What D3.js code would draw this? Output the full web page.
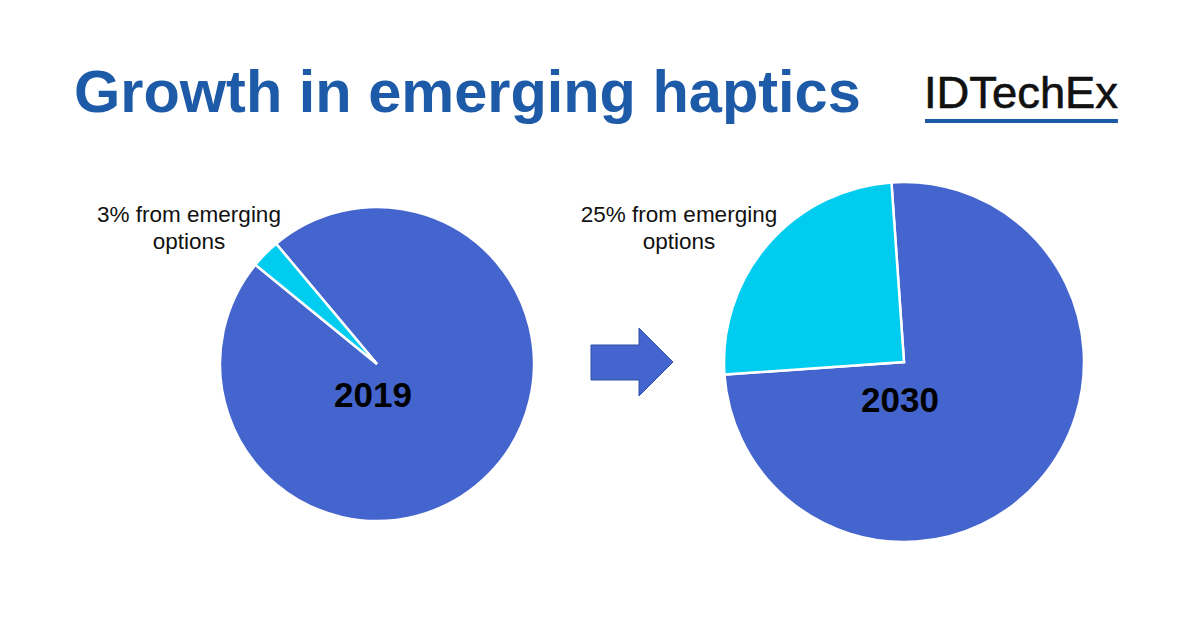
<!DOCTYPE html>
<html>
<head>
<meta charset="utf-8">
<script src="https://cdn.jsdelivr.net/npm/d3@7"></script>
<style>
  html, body { margin: 0; padding: 0; background: #ffffff; }
  svg { display: block; }
</style>
</head>
<body>
<script>
// ---- data ----
const title = "Growth in emerging haptics";
const brand = "IDTechEx";
const years = ["2019", "2030"];
const categories = ["Established", "Emerging"];
const shares2019 = [97, 3];
const shares2030 = [75, 25];
const labelLines2019 = ["3% from emerging", "options"];
const labelLines2030 = ["25% from emerging", "options"];
const colors = ["#4465CE", "#00CCF0"];

const W = 1200, H = 628;
const svg = d3.select("body").append("svg").attr("width", W).attr("height", H);
svg.append("rect").attr("width", W).attr("height", H).attr("fill", "#ffffff");

// title
svg.append("text").attr("x", 74).attr("y", 112)
  .attr("font-family", "Liberation Sans, Arial, sans-serif")
  .attr("font-weight", "bold").attr("font-size", 59.5)
  .attr("fill", "#1D5AA8").text(title);

// brand
svg.append("text").attr("x", 924).attr("y", 108)
  .attr("font-family", "Liberation Sans, Arial, sans-serif")
  .attr("font-size", 45).attr("fill", "#111111")
  .attr("stroke", "#111111").attr("stroke-width", 0.6)
  .attr("textLength", 194).attr("lengthAdjust", "spacingAndGlyphs")
  .text(brand);
svg.append("rect").attr("x", 925).attr("y", 119).attr("width", 193).attr("height", 4)
  .attr("fill", "#1D5AA8");

const color = d3.scaleOrdinal().domain(categories).range(colors);
const deg = Math.PI / 180;

function drawPie(values, cx, cy, r, startDeg, year, yearY, labelLines, labelX) {
  const pie = d3.pie().sort(null).value(d => d)
    .startAngle(startDeg * deg).endAngle((startDeg + 360) * deg);
  const arc = d3.arc().innerRadius(0).outerRadius(r);
  const g = svg.append("g").attr("transform", `translate(${cx},${cy})`);
  g.selectAll("path").data(pie(values)).join("path")
    .attr("d", arc)
    .attr("fill", (d, i) => color(categories[i]))
    .attr("stroke", "#ffffff").attr("stroke-width", 2.5)
    .attr("stroke-linejoin", "miter");
  svg.append("text").attr("x", cx - 4).attr("y", yearY)
    .attr("text-anchor", "middle")
    .attr("font-family", "Liberation Sans, Arial, sans-serif")
    .attr("font-weight", "bold").attr("font-size", 35).attr("fill", "#000000")
    .text(year);
  const t = svg.append("text").attr("text-anchor", "middle")
    .attr("font-family", "Liberation Sans, Arial, sans-serif")
    .attr("font-size", 22.5).attr("fill", "#111111");
  labelLines.forEach((s, i) => {
    t.append("tspan").attr("x", labelX).attr("y", 222 + i * 26.5).text(s);
  });
}

drawPie(shares2019, 377, 364, 157, -40, years[0], 407, labelLines2019, 189);
drawPie(shares2030, 904, 362, 180, -4, years[1], 412, labelLines2030, 679);

// arrow
const arrowPts = [[591,345],[639,345],[639,328],[673,362],[639,396],[639,380],[591,380]];
svg.append("path").attr("d", d3.line()(arrowPts) + "Z")
  .attr("fill", "#4465CE").attr("stroke", "#2F4FA8").attr("stroke-width", 1);
</script>
</body>
</html>
